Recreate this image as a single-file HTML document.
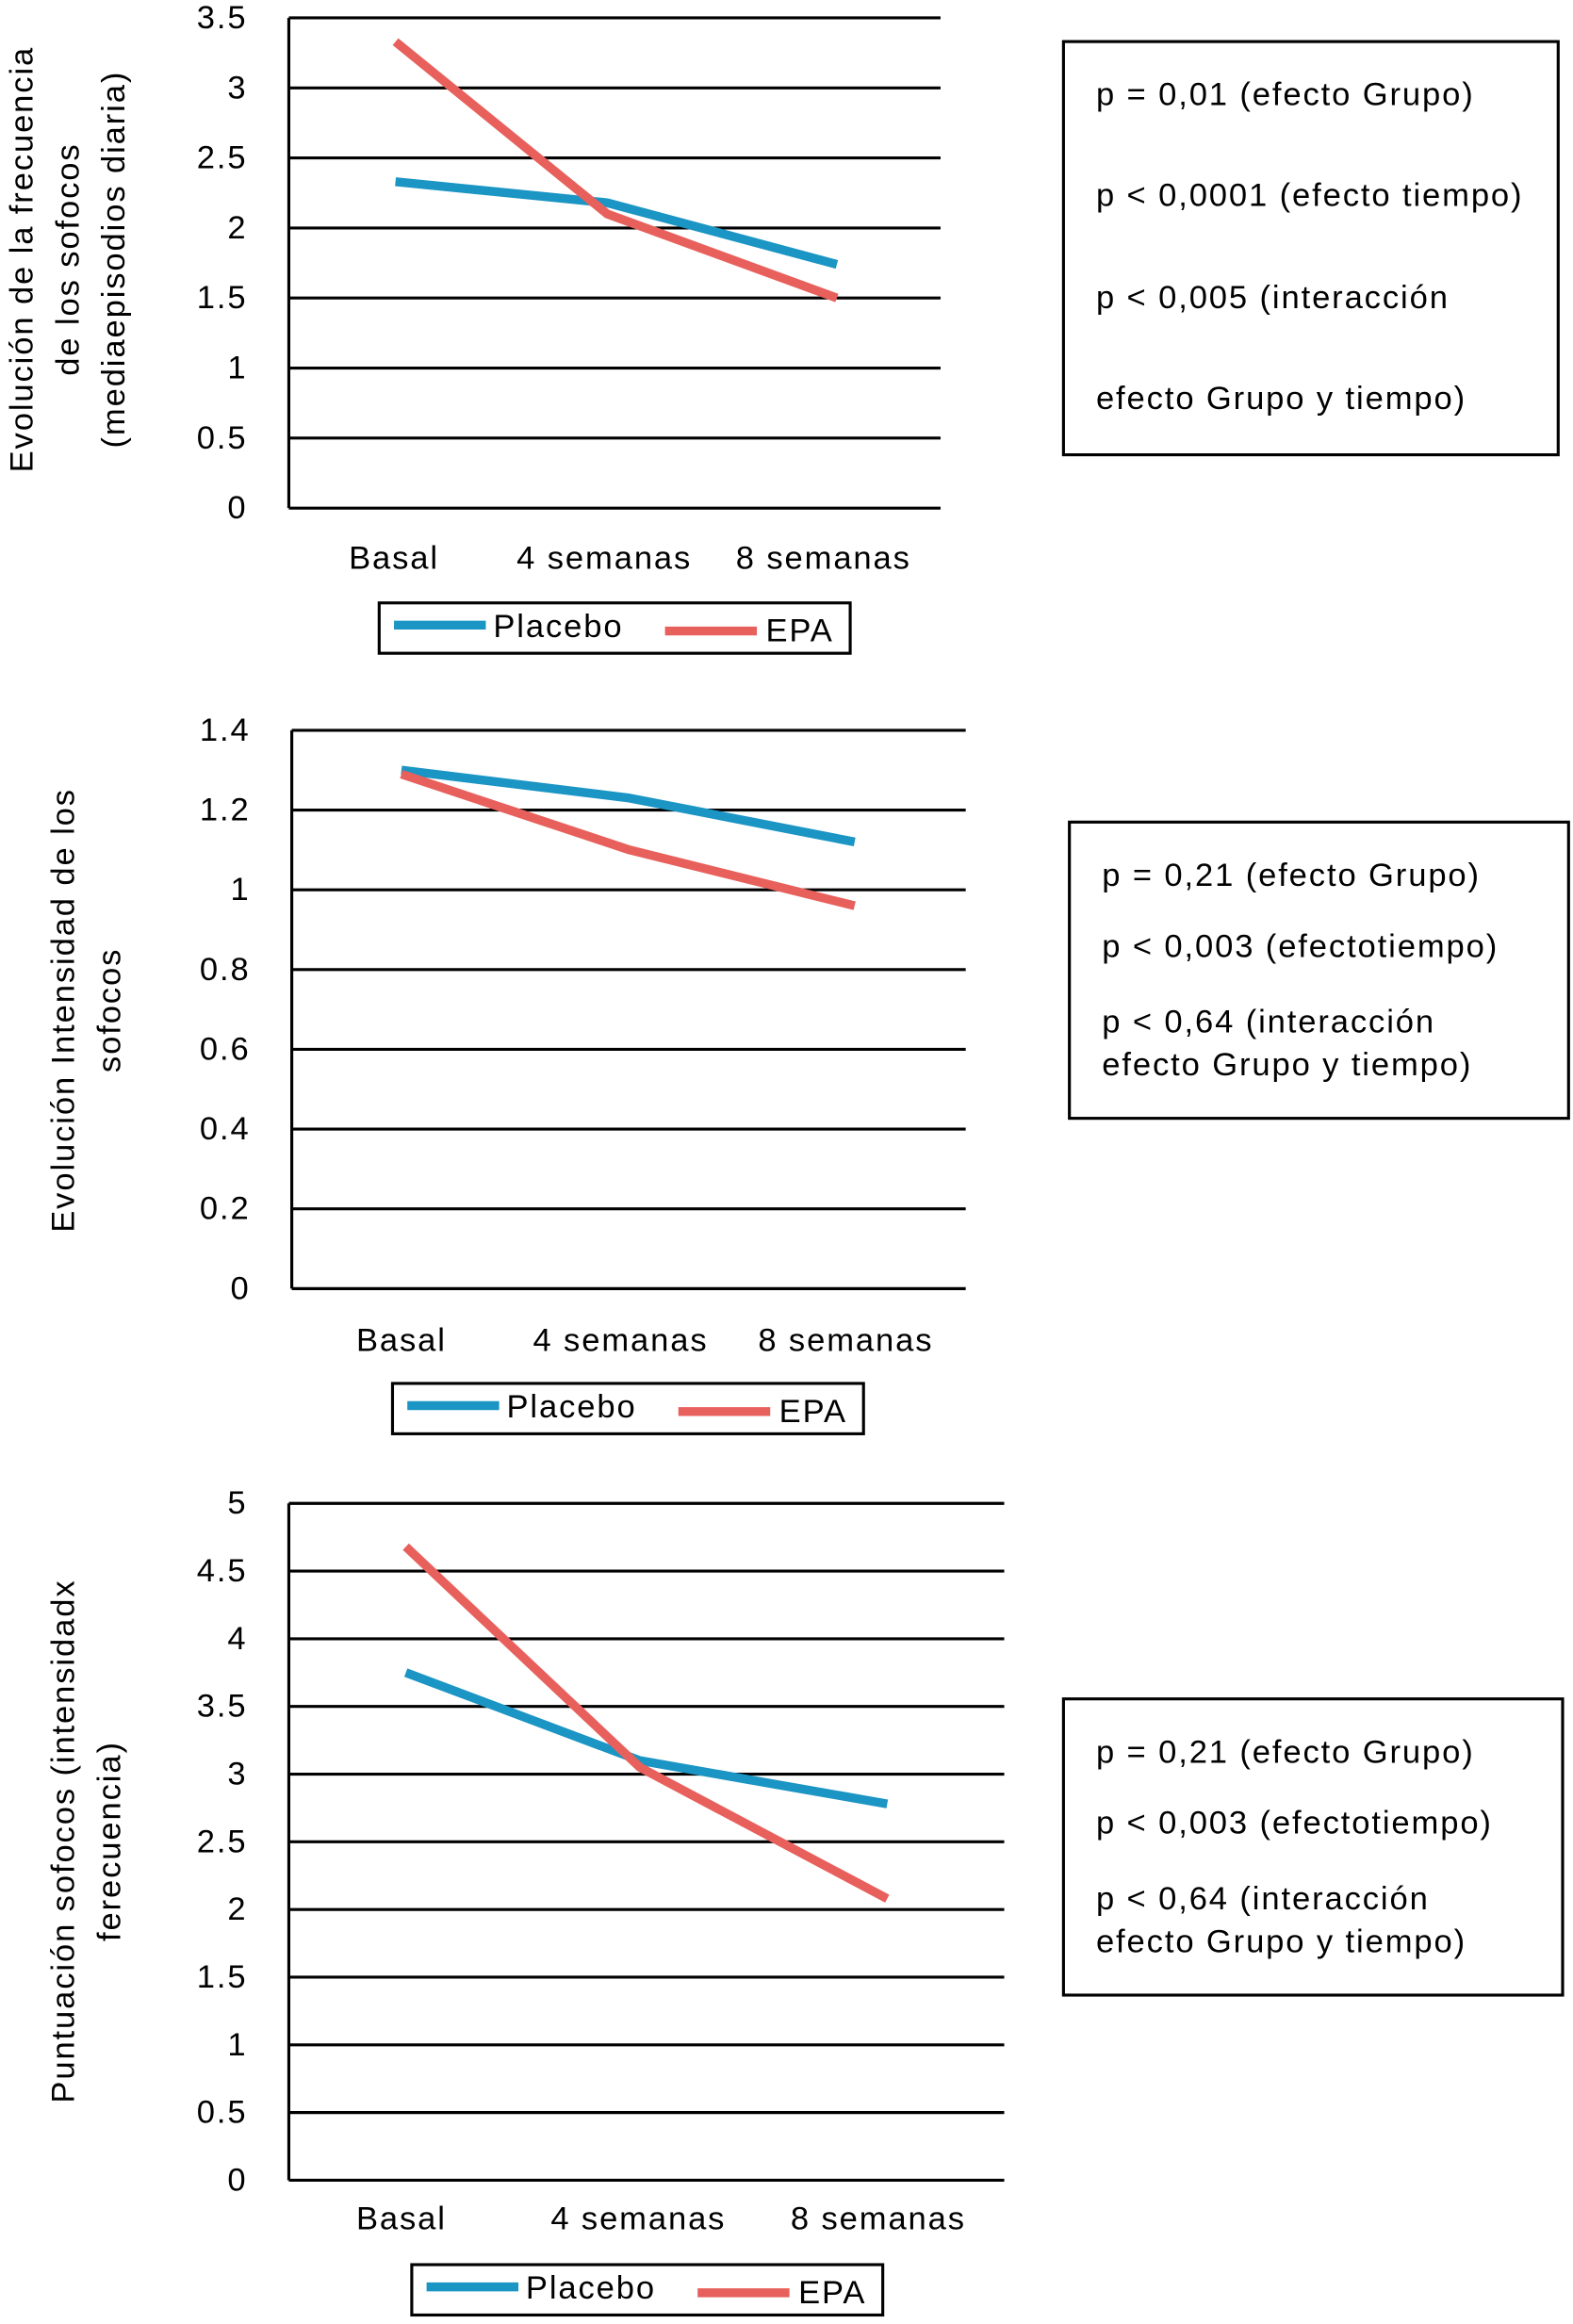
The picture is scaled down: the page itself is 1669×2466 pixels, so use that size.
<!DOCTYPE html>
<html><head><meta charset="utf-8">
<style>
html,body{margin:0;padding:0;background:#fff;}
svg{display:block;font-family:"Liberation Sans",sans-serif;}
svg text{letter-spacing:1.2px;}
</style></head>
<body>
<svg id="root" width="1669" height="2466" viewBox="0 0 1062 1569" xmlns="http://www.w3.org/2000/svg"></svg>
<script>
// ---- data ----
const categories = ["Basal", "4 semanas", "8 semanas"];
const chart1Placebo = [2.33, 2.18, 1.74];
const chart1EPA = [3.33, 2.1, 1.5];
const chart1Ticks = ["0","0.5","1","1.5","2","2.5","3","3.5"];
const chart2Placebo = [1.30, 1.23, 1.12];
const chart2EPA = [1.29, 1.10, 0.96];
const chart2Ticks = ["0","0.2","0.4","0.6","0.8","1","1.2","1.4"];
const chart3Placebo = [3.75, 3.1, 2.78];
const chart3EPA = [4.68, 3.05, 2.08];
const chart3Ticks = ["0","0.5","1","1.5","2","2.5","3","3.5","4","4.5","5"];
const chart1Stats = ["p = 0,01 (efecto Grupo)","p < 0,0001 (efecto tiempo)","p < 0,005 (interacción","efecto Grupo y tiempo)"];
const chart2Stats = ["p = 0,21 (efecto Grupo)","p < 0,003 (efectotiempo)","p < 0,64 (interacción","efecto Grupo y tiempo)"];
const chart3Stats = ["p = 0,21 (efecto Grupo)","p < 0,003 (efectotiempo)","p < 0,64 (interacción","efecto Grupo y tiempo)"];

const NS = "http://www.w3.org/2000/svg";
const root = document.getElementById("root");
function mk(tag, attrs, parent, text){
  const e = document.createElementNS(NS, tag);
  for (const k in attrs) e.setAttribute(k, attrs[k]);
  if (text !== undefined) e.textContent = text;
  (parent || root).appendChild(e);
  return e;
}

function drawChart(cfg){
  const g = mk("g", {});
  
  
  const maxV = parseFloat(cfg.ticks[cfg.ticks.length-1]);
  const y = v => cfg.bottom - (v / maxV) * (cfg.bottom - cfg.top);
  const x = i => cfg.px[i];
  cfg.ticks.forEach(t => {
    const v = parseFloat(t), yy = y(v);
    const ln = mk("line", {x1: cfg.left, x2: cfg.right, y1: yy, y2: yy, stroke: "#000", "stroke-width": 2}, g);
    
    
    const tl = mk("text", {x: cfg.left - 28, y: yy + 7, "text-anchor": "end", "font-size": 22}, g, t);
    
    
  });
  const ax = mk("line", {x1: cfg.left, x2: cfg.left, y1: cfg.top, y2: cfg.bottom, stroke: "#000", "stroke-width": 2}, g);
  
  
  categories.forEach((c, i) => {
    const cl = mk("text", {x: cfg.lx[i], y: cfg.ly, "text-anchor": "middle", "font-size": 22}, g, c);
    
    
  });
  [[cfg.placebo, "#1b95c4", "placebo-line"], [cfg.epa, "#e8605c", "epa-line"]].forEach(s => {
    const pts = s[0].map((v, i) => x(i) + "," + y(v)).join(" ");
    const pl = mk("polyline", {points: pts, fill: "none", stroke: s[1], "stroke-width": 6, "stroke-linejoin": "round"}, g);
    
    
  });
  const tt = mk("text", {transform: "translate(" + cfg.tx + "," + cfg.ty + ") rotate(-90)", "text-anchor": "middle", "font-size": 22}, g);
  
  
  cfg.title.forEach((l, i) => mk("tspan", {x: 0, y: i * 31}, tt, l));
  const L = cfg.leg;
  const lg = mk("g", {}, g);
  
  
  mk("rect", {x: L[0], y: L[1], width: 318, height: 34, fill: "#fff", stroke: "#000", "stroke-width": 2}, lg);
  mk("line", {x1: L[0]+10, x2: L[0]+72, y1: L[1]+15, y2: L[1]+15, stroke: "#1b95c4", "stroke-width": 6}, lg);
  const t1 = mk("text", {x: L[0]+77, y: L[1]+23, "font-size": 22}, lg, "Placebo");
  
  
  mk("line", {x1: L[0]+193, x2: L[0]+255, y1: L[1]+19, y2: L[1]+19, stroke: "#e8605c", "stroke-width": 6}, lg);
  const t2 = mk("text", {x: L[0]+261, y: L[1]+26, "font-size": 22}, lg, "EPA");
  
  
  const B = cfg.box;
  const bg = mk("g", {}, g);
  
  
  mk("rect", {x: B[0], y: B[1], width: B[2], height: B[3], fill: "#fff", stroke: "#000", "stroke-width": 2}, bg);
  cfg.stats.forEach((s, i) => {
    const st = mk("text", {x: B[0] + 22, y: cfg.sy[i] + 8, "font-size": 22}, bg, s);
    
    
  });
}

drawChart({name: "frequency-chart", left: 195, right: 635, top: 12, bottom: 343, ticks: chart1Ticks,
  px: [267, 410, 565], lx: [266, 408, 556], ly: 384, placebo: chart1Placebo, epa: chart1EPA,
  tx: 22, ty: 175, title: ["Evolución de la  frecuencia", "de los  sofocos", "(mediaepisodios diaria)"],
  leg: [256, 407], box: [718, 28, 334, 279], stats: chart1Stats, sy: [63, 131, 200, 268]});
drawChart({name: "intensity-chart", left: 197, right: 652, top: 493, bottom: 870, ticks: chart2Ticks,
  px: [271, 425, 577], lx: [271, 419, 571], ly: 912, placebo: chart2Placebo, epa: chart2EPA,
  tx: 50, ty: 682, title: ["Evolución  Intensidad de los", "sofocos"],
  leg: [265, 934], box: [722, 555, 337, 200], stats: chart2Stats, sy: [590, 638, 689, 718]});
drawChart({name: "score-chart", left: 195, right: 678, top: 1015, bottom: 1472, ticks: chart3Ticks,
  px: [274, 432, 599], lx: [271, 431, 593], ly: 1505, placebo: chart3Placebo, epa: chart3EPA,
  tx: 50, ty: 1243, title: ["Puntuación sofocos (intensidadx", "ferecuencia)"],
  leg: [278, 1529], box: [718, 1147, 337, 200], stats: chart3Stats, sy: [1182, 1230, 1281, 1310]});
</script>
</body></html>
